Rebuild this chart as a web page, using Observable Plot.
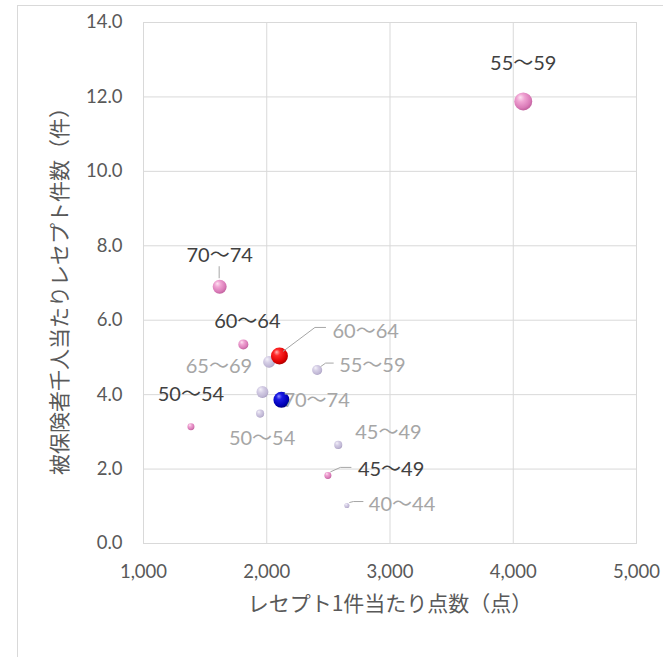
<!DOCTYPE html>
<html>
<head>
<meta charset="utf-8">
<script src="https://cdn.jsdelivr.net/npm/d3@7"></script>
<script src="https://cdn.jsdelivr.net/npm/@observablehq/plot@0.6"></script>
<style>
  html, body { margin: 0; padding: 0; background: #fff; }
  #wrap { position: relative; width: 663px; height: 657px; overflow: hidden; }
  #border { position: absolute; left: 17px; top: 5px; width: 700px; height: 700px;
            border-left: 1.5px solid #d9d9d9; border-top: 1.5px solid #d9d9d9; pointer-events: none; }
  #chart { position: absolute; left: 0; top: 0; }
</style>
</head>
<body>
<svg width="0" height="0" style="position:absolute">
  <defs>
    <radialGradient id="gPink" cx="0.42" cy="0.38" r="0.62" fx="0.33" fy="0.27">
      <stop offset="0%" stop-color="#fde3f2"/>
      <stop offset="35%" stop-color="#f0a4d3"/>
      <stop offset="80%" stop-color="#da7bb8"/>
      <stop offset="100%" stop-color="#c2629f"/>
    </radialGradient>
    <radialGradient id="gLav" cx="0.42" cy="0.38" r="0.62" fx="0.33" fy="0.27">
      <stop offset="0%" stop-color="#f4f1f9"/>
      <stop offset="40%" stop-color="#d6cfe6"/>
      <stop offset="85%" stop-color="#bfb6d4"/>
      <stop offset="100%" stop-color="#aaa0c2"/>
    </radialGradient>
    <radialGradient id="gRed" cx="0.42" cy="0.38" r="0.62" fx="0.33" fy="0.27">
      <stop offset="0%" stop-color="#ffb4b4"/>
      <stop offset="30%" stop-color="#ff2a2a"/>
      <stop offset="80%" stop-color="#e00000"/>
      <stop offset="100%" stop-color="#b00000"/>
    </radialGradient>
    <radialGradient id="gBlue" cx="0.42" cy="0.38" r="0.62" fx="0.33" fy="0.27">
      <stop offset="0%" stop-color="#8a8aff"/>
      <stop offset="30%" stop-color="#1c1ce4"/>
      <stop offset="80%" stop-color="#0000b8"/>
      <stop offset="100%" stop-color="#00007a"/>
    </radialGradient>
  </defs>
</svg>
<div id="wrap"><div id="chart"></div><div id="border"></div></div>
<script>
// ---- data ----
// series A (dark labels, pink bubbles)
const seriesALabels = ["45～49", "50～54", "55～59", "60～64", "70～74"];
const seriesAX = [2496, 1385, 4081, 1810, 1618];
const seriesAY = [1.83, 3.14, 11.88, 5.35, 6.90];
const seriesASize = [15, 15, 100, 31, 60];

// series B (grey labels, lavender bubbles; two highlighted)
const seriesBLabels = ["40～44", "45～49", "50～54", "55～59", "60～64", "65～69", "70～74", ""];
const seriesBX = [2650, 2580, 1946, 2409, 2103, 2019, 2119, 1965];
const seriesBY = [1.02, 2.65, 3.49, 4.66, 5.04, 4.88, 3.86, 4.07];
const seriesBSize = [8, 20, 20, 31, 89, 44, 79, 44];

const xTicks = [1000, 2000, 3000, 4000, 5000];
const yTicks = [0, 2, 4, 6, 8, 10, 12, 14];
const xTitle = "レセプト1件当たり点数（点）";
const yTitle = "被保険者千人当たりレセプト件数（件）";

// ---- styling / label layout (pixel offsets from the bubble) ----
const highlightFill = {"60～64": "url(#gRed)", "70～74": "url(#gBlue)"};
const layoutA = {
  "45～49": {dx: 30, dy: -6, anchor: "start", leader: [[3, -3], [13, -7.5], [24, -7.5]]},
  "50～54": {dx: 0, dy: -32, anchor: "middle"},
  "55～59": {dx: 0, dy: -38, anchor: "middle"},
  "60～64": {dx: 4, dy: -23, anchor: "middle"},
  "70～74": {dx: 0, dy: -31, anchor: "middle", leader: [[0, -8], [0, -20]]}
};
const layoutB = {
  "40～44": {dx: 22, dy: -1, anchor: "start", leader: [[3, -2.5], [7, -3.5], [17, -3.5]]},
  "45～49": {dx: 17, dy: -12, anchor: "start"},
  "50～54": {dx: 2, dy: 25, anchor: "middle"},
  "55～59": {dx: 22, dy: -4, anchor: "start", leader: [[4, -3], [9, -6.5], [17, -6.5]]},
  "60～64": {dx: 53, dy: -24, anchor: "start", leader: [[4, -4], [36, -28], [47, -28]]},
  "65～69": {dx: -17, dy: 5, anchor: "end"},
  "70～74": {dx: 2, dy: 1, anchor: "start"},
  "": {dx: 0, dy: 0, anchor: "middle"}
};

const A = seriesALabels.map((label, i) => ({label, x: seriesAX[i], y: seriesAY[i], size: seriesASize[i]}));
const B = seriesBLabels.map((label, i) => ({label, x: seriesBX[i], y: seriesBY[i], size: seriesBSize[i]}));
const Bplain = B.filter(d => !highlightFill[d.label]);
const Bhi = B.filter(d => highlightFill[d.label]);

const numFont = "Lato, 'Noto Sans', 'Noto Sans CJK JP', sans-serif";
const jpFont = "'Noto Sans CJK JP', 'Noto Sans', sans-serif";

function labels(data, layout, color) {
  // one text mark per label so each can have its own offset
  return data.filter(d => d.label).map(d => {
    const L = layout[d.label];
    return Plot.text([d], {
      x: "x", y: "y", text: "label",
      dx: L.dx, dy: L.dy, textAnchor: L.anchor,
      fill: color, fontSize: 20, fontFamily: numFont
    });
  });
}

function leaders(data, layout) {
  return (index, scales) => {
    const g = d3.create("svg:g")
      .attr("fill", "none").attr("stroke", "#a6a6a6").attr("stroke-width", 1);
    for (const d of data) {
      const L = layout[d.label];
      if (!L || !L.leader) continue;
      const px = scales.x(d.x), py = scales.y(d.y);
      g.append("polyline")
        .attr("points", L.leader.map(([ox, oy]) => `${px + ox},${py + oy}`).join(" "));
    }
    return g.node();
  };
}

const plot = Plot.plot({
  width: 663,
  height: 657,
  marginTop: 22,
  marginRight: 27,
  marginBottom: 114,
  marginLeft: 143,
  style: {fontFamily: numFont, color: "#595959", background: "transparent"},
  x: {domain: [1000, 5000], label: null},
  y: {domain: [0, 14], label: null},
  r: {domain: [0, 100], range: [0, 9]},
  marks: [
    Plot.gridX(xTicks, {stroke: "#d9d9d9", strokeOpacity: 1}),
    Plot.gridY(yTicks, {stroke: "#d9d9d9", strokeOpacity: 1}),
    Plot.frame({stroke: "#d9d9d9"}),
    Plot.axisX(xTicks, {tickSize: 0, tickPadding: 21, tickFormat: d3.format(","), fontSize: 18.5, fill: "#595959", label: null}),
    Plot.axisY(yTicks, {tickSize: 0, tickPadding: 21, tickFormat: d3.format(".1f"), fontSize: 18.5, fill: "#595959", label: null}),
    Plot.dot(Bplain, {x: "x", y: "y", r: "size", fill: "url(#gLav)"}),
    Plot.dot(A, {x: "x", y: "y", r: "size", fill: "url(#gPink)"}),
    ...Bhi.map(d => Plot.dot([d], {x: "x", y: "y", r: "size", fill: highlightFill[d.label]})),
    leaders(A, layoutA),
    leaders(B, layoutB),
    ...labels(A, layoutA, "#404040"),
    ...labels(B, layoutB, "#a6a6a6"),
    Plot.text([xTitle], {frameAnchor: "bottom", dy: 61, lineAnchor: "middle", textAnchor: "middle", fontSize: 21, fontFamily: jpFont, fill: "#595959"}),
    Plot.text([yTitle], {frameAnchor: "left", dx: -83, dy: 3, rotate: -90, textAnchor: "middle", lineAnchor: "middle", fontSize: 21, fontFamily: jpFont, fill: "#595959"})
  ]
});
document.getElementById("chart").appendChild(plot);
</script>
</body>
</html>
